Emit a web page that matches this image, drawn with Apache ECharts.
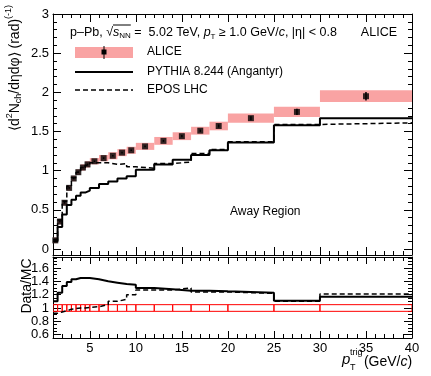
<!DOCTYPE html>
<html>
<head>
<meta charset="utf-8">
<script src="https://cdn.jsdelivr.net/npm/echarts@6/dist/echarts.min.js"></script>
<style>
html, body { margin: 0; padding: 0; background: #fff; }
#main { width: 431px; height: 376px; }
</style>
</head>
<body>
<div id="main"></div>
<script>
// pT^trig bins (GeV/c)
var binLo = [1, 1.5, 2, 2.5, 3, 3.5, 4, 4.5, 5, 6, 7, 8, 9, 10, 12, 14, 16, 18, 20, 25, 30];
var binHi = [1.5, 2, 2.5, 3, 3.5, 4, 4.5, 5, 6, 7, 8, 9, 10, 12, 14, 16, 18, 20, 25, 30, 40];
var binCenter = [1.25, 1.75, 2.25, 2.75, 3.25, 3.75, 4.25, 4.75, 5.5, 6.5, 7.5, 8.5, 9.5, 11, 13, 15, 17, 19, 22.5, 27.5, 35];

// ALICE away region yield
var aliceVal = [0.11, 0.35, 0.59, 0.78, 0.90, 0.98, 1.04, 1.08, 1.12, 1.16, 1.19, 1.23, 1.26, 1.31, 1.38, 1.44, 1.51, 1.57, 1.67, 1.75, 1.95];
var aliceStat = [0.01, 0.01, 0.01, 0.01, 0.01, 0.01, 0.01, 0.01, 0.01, 0.01, 0.01, 0.01, 0.01, 0.01, 0.012, 0.015, 0.015, 0.02, 0.025, 0.04, 0.055];
var aliceSys = [0.035, 0.035, 0.035, 0.035, 0.035, 0.035, 0.04, 0.04, 0.04, 0.04, 0.045, 0.045, 0.045, 0.045, 0.05, 0.05, 0.05, 0.055, 0.06, 0.065, 0.075];

// models
var pythiaVal = [0.10, 0.28, 0.44, 0.56, 0.63, 0.68, 0.72, 0.745, 0.78, 0.83, 0.86, 0.90, 0.93, 1.01, 1.08, 1.14, 1.20, 1.26, 1.36, 1.58, 1.67];
var eposVal = [0.12, 0.37, 0.61, 0.80, 0.91, 0.98, 1.04, 1.07, 1.10, 1.10, 1.08, 1.09, 1.05, 1.03, 1.09, 1.11, 1.22, 1.27, 1.37, 1.59, 1.61];

// Data/MC
var ratioPythia = [1.10, 1.23, 1.33, 1.39, 1.43, 1.45, 1.45, 1.45, 1.43, 1.40, 1.38, 1.36, 1.35, 1.30, 1.28, 1.26, 1.26, 1.25, 1.23, 1.11, 1.17];
var ratioEpos = [0.92, 0.94, 0.96, 0.98, 0.99, 1.00, 1.00, 1.01, 1.02, 1.05, 1.10, 1.13, 1.20, 1.27, 1.27, 1.30, 1.24, 1.24, 1.22, 1.10, 1.21];
var ratioSys = [0.05, 0.05, 0.05, 0.05, 0.05, 0.05, 0.05, 0.05, 0.05, 0.05, 0.05, 0.05, 0.05, 0.05, 0.05, 0.05, 0.05, 0.05, 0.05, 0.05, 0.05];

// tick labels
var xTicks = [5, 10, 15, 20, 25, 30, 35, 40];
var yTicksTop = [0, 0.5, 1, 1.5, 2, 2.5, 3];
var yTicksRatio = [0.6, 0.8, 1, 1.2, 1.4, 1.6];

function steps(from, to, step) {
  var out = [];
  for (var v = from; v <= to + 1e-9; v += step) out.push(Math.round(v * 1000) / 1000);
  return out;
}
var xMinor = steps(1, 40, 1);
var yMinorTop = steps(0, 3, 0.1);
var yMinorRatio = steps(0.6, 1.75, 0.05);

var FONT = '"Liberation Sans", Arial, Helvetica, sans-serif';
var chart = echarts.init(document.getElementById('main'));

// one frame side: a major tick axis plus a minor tick axis
function sideAxes(grid, pos, range, major, minor, labels, majorLen) {
  var base = { type: 'value', gridIndex: grid, position: pos, min: range[0], max: range[1], splitLine: { show: false } };
  var a = Object.assign({}, base, {
    axisLine: { show: true, onZero: false, lineStyle: { color: '#000', width: 1 } },
    axisTick: { show: true, inside: true, length: majorLen, customValues: major, lineStyle: { color: '#000' } },
    axisLabel: { show: labels, customValues: major, color: '#000', fontFamily: FONT, fontSize: 13, margin: 4 }
  });
  var b = Object.assign({}, base, {
    axisLine: { show: false, onZero: false },
    axisTick: { show: true, inside: true, length: Math.round(majorLen / 2), customValues: minor, lineStyle: { color: '#000' } },
    axisLabel: { show: false }
  });
  return [a, b];
}

var xRange = [1, 40];
var yRangeTop = [-0.077, 3];
var yRangeRatio = [0.55, 1.765];

var xAxes = [].concat(
  sideAxes(0, 'bottom', xRange, xTicks, xMinor, false, 8),
  sideAxes(0, 'top', xRange, xTicks, xMinor, false, 8),
  sideAxes(1, 'bottom', xRange, xTicks, xMinor, true, 7),
  sideAxes(1, 'top', xRange, xTicks, xMinor, false, 7)
);
var yAxes = [].concat(
  sideAxes(0, 'left', yRangeTop, yTicksTop, yMinorTop, true, 8),
  sideAxes(0, 'right', yRangeTop, yTicksTop, yMinorTop, false, 8),
  sideAxes(1, 'left', yRangeRatio, yTicksRatio, yMinorRatio, true, 8),
  sideAxes(1, 'right', yRangeRatio, yTicksRatio, yMinorRatio, false, 8)
);

function histPoints(vals) {
  var pts = binLo.map(function (x, i) { return [x, vals[i]]; });
  pts.push([binHi[binHi.length - 1], vals[vals.length - 1]]);
  return pts;
}

function boxRender(fill, stroke) {
  return function (params, api) {
    var a = api.coord([api.value(0), api.value(3)]);
    var b = api.coord([api.value(1), api.value(2)]);
    return {
      type: 'rect',
      shape: { x: a[0], y: a[1], width: b[0] - a[0], height: b[1] - a[1] },
      style: { fill: fill, stroke: stroke, lineWidth: stroke ? 1 : 0 }
    };
  };
}

var bandData = binLo.map(function (x, i) { return [x, binHi[i], aliceVal[i] - aliceSys[i], aliceVal[i] + aliceSys[i]]; });
var ratioBoxData = binLo.map(function (x, i) { return [x, binHi[i], 1 - ratioSys[i], 1 + ratioSys[i]]; });
var errData = binCenter.map(function (x, i) { return [x, aliceVal[i] - aliceStat[i], aliceVal[i] + aliceStat[i]]; });
var pointData = binCenter.map(function (x, i) { return [x, aliceVal[i]]; });

// text runs with sub/superscripts
var ctx = document.createElement('canvas').getContext('2d');
function run(pieces, x0, y0, size) {
  var els = [], x = x0;
  pieces.forEach(function (p) {
    var s = p.size || size;
    var font = (p.it ? 'italic ' : '') + s + 'px ' + FONT;
    ctx.font = font;
    els.push({ type: 'text', x: x, y: y0 + (p.dy || 0), style: { text: p.t, font: font, fill: '#000', align: 'left', verticalAlign: 'middle' } });
    p.x = x;
    x += ctx.measureText(p.t).width + (p.gap || 0);
    p.end = x;
  });
  return { els: els, width: x - x0, pieces: pieces };
}

var header = run([
  { t: 'p\u2013Pb, ' }, { t: '\u221A' }, { t: 's', it: true }, { t: 'NN', size: 8, dy: 3 },
  { t: ' =  5.02 TeV, ' }, { t: 'p', it: true }, { t: 'T', size: 8, dy: 4 },
  { t: ' \u2265 1.0 GeV/' }, { t: 'c', it: true }, { t: ', |\u03B7| < 0.8' }
], 70, 33, 12.5);
var hp = header.pieces;

var yTitle = run([
  { t: '\u27E8d' }, { t: '2', size: 9, dy: -5 }, { t: 'N' }, { t: 'ch', size: 9, dy: 4 },
  { t: '/d\u03B7d\u03C6\u27E9 (rad)' }, { t: '(-1)', size: 9, dy: -6 }
], 0, 0, 14);
yTitle.els.forEach(function (e) { e.x -= yTitle.width / 2; });

var ratioTitle = run([{ t: 'Data/MC' }], 0, 0, 14);
ratioTitle.els.forEach(function (e) { e.x -= ratioTitle.width / 2; });

var xTitle = run([{ t: ' (GeV/' }, { t: 'c', it: true }, { t: ')' }], 360, 362, 14);

var graphics = [].concat(
  header.els,
  [
    { type: 'line', shape: { x1: hp[2].x, y1: 25, x2: hp[3].end, y2: 25 }, style: { stroke: '#000', lineWidth: 1 } },
    { type: 'text', x: 397, y: 33, style: { text: 'ALICE', font: '12.5px ' + FONT, fill: '#000', align: 'right', verticalAlign: 'middle' } },
    // legend
    { type: 'rect', shape: { x: 75, y: 47, width: 58, height: 11 }, style: { fill: '#f9a3a3' } },
    { type: 'line', shape: { x1: 104, y1: 46, x2: 104, y2: 59 }, style: { stroke: '#000', lineWidth: 1 } },
    { type: 'rect', shape: { x: 101.5, y: 49.5, width: 5, height: 5 }, style: { fill: '#000' } },
    { type: 'text', x: 147, y: 52, style: { text: 'ALICE', font: '12px ' + FONT, fill: '#000', verticalAlign: 'middle' } },
    { type: 'line', shape: { x1: 75, y1: 72, x2: 133, y2: 72 }, style: { stroke: '#000', lineWidth: 2 } },
    { type: 'text', x: 147, y: 72, style: { text: 'PYTHIA 8.244 (Angantyr)', font: '12px ' + FONT, fill: '#000', verticalAlign: 'middle' } },
    { type: 'line', shape: { x1: 75, y1: 90, x2: 133, y2: 90 }, style: { stroke: '#000', lineWidth: 1.5, lineDash: [5, 3] } },
    { type: 'text', x: 147, y: 90, style: { text: 'EPOS LHC', font: '12px ' + FONT, fill: '#000', verticalAlign: 'middle' } },
    { type: 'text', x: 230, y: 212, style: { text: 'Away Region', font: '12px ' + FONT, fill: '#000', verticalAlign: 'middle' } },
    { type: 'group', x: 15, y: 68, rotation: Math.PI / 2, children: yTitle.els },
    { type: 'group', x: 27, y: 286, rotation: Math.PI / 2, children: ratioTitle.els },
    { type: 'text', x: 342, y: 360, style: { text: 'p', font: 'italic 15px ' + FONT, fill: '#000', verticalAlign: 'middle' } },
    { type: 'text', x: 350, y: 353, style: { text: 'trig', font: '9px ' + FONT, fill: '#000', verticalAlign: 'middle' } },
    { type: 'text', x: 350, y: 368, style: { text: 'T', font: '9px ' + FONT, fill: '#000', verticalAlign: 'middle' } }
  ],
  xTitle.els
);

var option = {
  animation: false,
  backgroundColor: '#fff',
  grid: [
    { left: 53, top: 14, width: 359, height: 241 },
    { left: 53, top: 257, width: 359, height: 81 }
  ],
  xAxis: xAxes,
  yAxis: yAxes,
  graphic: graphics,
  series: [
    {
      type: 'custom', xAxisIndex: 0, yAxisIndex: 0, clip: true,
      renderItem: boxRender('#f9a3a3', null),
      encode: { x: [0, 1], y: [2, 3] },
      data: bandData, z: 1
    },
    {
      type: 'line', xAxisIndex: 0, yAxisIndex: 0, step: 'end', symbol: 'none',
      lineStyle: { color: '#000', width: 2 },
      data: histPoints(pythiaVal), z: 2
    },
    {
      type: 'line', xAxisIndex: 0, yAxisIndex: 0, step: 'end', symbol: 'none',
      lineStyle: { color: '#000', width: 1.5, type: [5, 3] },
      data: histPoints(eposVal), z: 2
    },
    {
      type: 'custom', xAxisIndex: 0, yAxisIndex: 0,
      renderItem: function (params, api) {
        var a = api.coord([api.value(0), api.value(1)]);
        var b = api.coord([api.value(0), api.value(2)]);
        return { type: 'line', shape: { x1: a[0], y1: a[1], x2: b[0], y2: b[1] }, style: { stroke: '#000', lineWidth: 1.5 } };
      },
      encode: { x: 0, y: [1, 2] },
      data: errData, z: 3
    },
    {
      type: 'scatter', xAxisIndex: 0, yAxisIndex: 0, symbol: 'rect', symbolSize: 6,
      itemStyle: { color: '#000' },
      data: pointData, z: 4
    },
    {
      type: 'custom', xAxisIndex: 4, yAxisIndex: 4, clip: true,
      renderItem: boxRender('none', '#ff0000'),
      encode: { x: [0, 1], y: [2, 3] },
      data: ratioBoxData, z: 1
    },
    {
      type: 'line', xAxisIndex: 4, yAxisIndex: 4, step: 'end', symbol: 'none',
      lineStyle: { color: '#000', width: 2 },
      data: histPoints(ratioPythia), z: 2
    },
    {
      type: 'line', xAxisIndex: 4, yAxisIndex: 4, step: 'end', symbol: 'none',
      lineStyle: { color: '#000', width: 1.5, type: [5, 3] },
      data: histPoints(ratioEpos), z: 2
    }
  ]
};
chart.setOption(option);
</script>
</body>
</html>
